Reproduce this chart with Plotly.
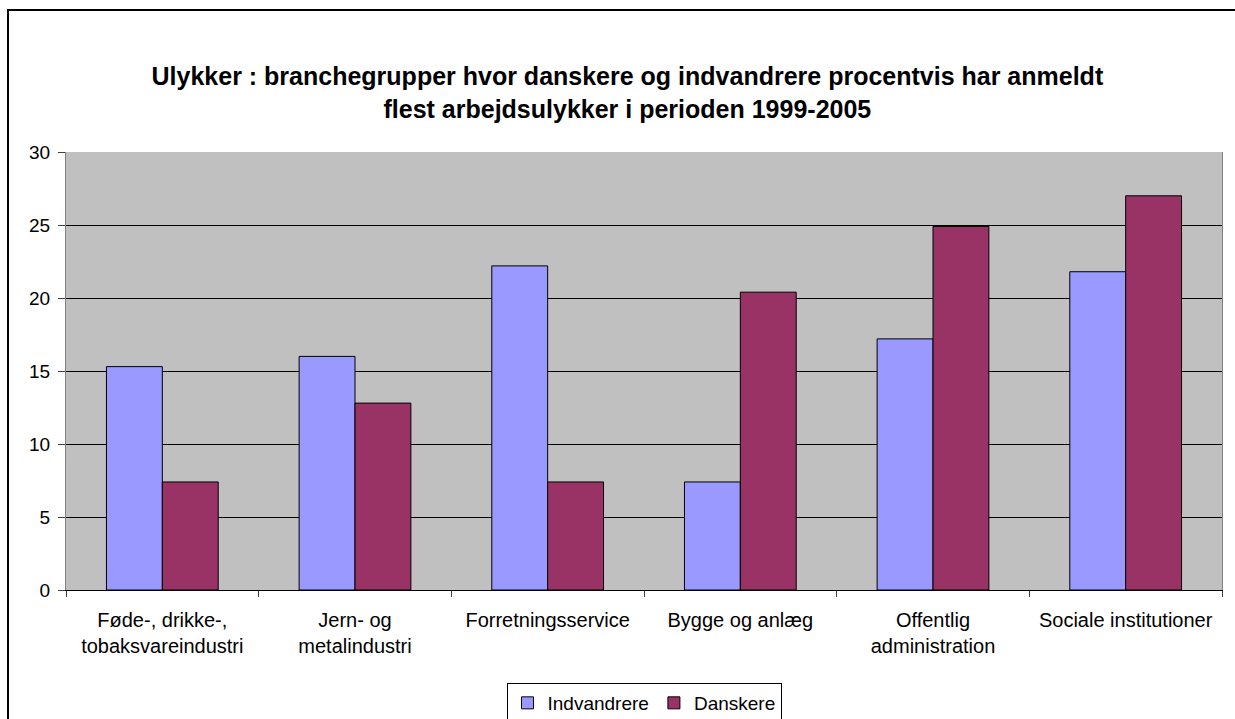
import plotly.graph_objects as go

categories = ["Føde-, drikke-,<br>tobaksvareindustri", "Jern- og<br>metalindustri",
              "Forretningsservice", "Bygge og anlæg",
              "Offentlig<br>administration", "Sociale institutioner"]
indvandrere = [15.3, 16.0, 22.2, 7.4, 17.2, 21.8]
danskere = [7.4, 12.8, 7.4, 20.4, 24.9, 27.0]

fig = go.Figure()
fig.add_trace(go.Bar(x=categories, y=indvandrere, name="Indvandrere",
                     marker=dict(color="#9999FF", line=dict(color="black", width=1))))
fig.add_trace(go.Bar(x=categories, y=danskere, name="Danskere",
                     marker=dict(color="#993366", line=dict(color="black", width=1))))

fig.update_layout(
    width=1235, height=719, autosize=False,
    margin=dict(l=66, r=13, t=152, b=129),
    paper_bgcolor="white", plot_bgcolor="#C0C0C0",
    font=dict(family="Arial", size=19, color="black"),
    barmode="group", bargap=0.42, bargroupgap=0,
    title=dict(text="<b>Ulykker : branchegrupper hvor danskere og indvandrere procentvis har anmeldt<br>flest arbejdsulykker i perioden 1999-2005</b>",
               x=0.508, xanchor="center", y=1 - 85 / 719, yanchor="middle",
               font=dict(family="Arial", size=25)),
    legend=dict(orientation="h", x=0.5, xanchor="center", yref="container",
                y=1 - 683 / 719, yanchor="top",
                bordercolor="black", borderwidth=1, font=dict(size=19),
                itemwidth=30, tracegroupgap=0),
    showlegend=True,
)
fig.update_yaxes(range=[0, 30], dtick=5, showgrid=True, gridcolor="black", gridwidth=1,
                 ticks="outside", ticklen=7, tickcolor="#404040", automargin=False,
                 ticklabelstandoff=4,
                 showline=True, linecolor="#808080", mirror=True, zeroline=False)
fig.update_xaxes(ticks="outside", ticklen=6, tickcolor="#404040", tickson="boundaries",
                 showline=True, linecolor="black", mirror=False, automargin=False,
                 ticklabelstandoff=12, tickfont=dict(size=20))

# outer chart frame (left and top edges visible, rest cut off)
fig.add_shape(type="rect", xref="paper", yref="paper",
              x0=(8 - 66) / 1156, x1=1.1, y0=-0.4, y1=(590 - 10) / 438,
              line=dict(color="black", width=2), fillcolor="rgba(0,0,0,0)", layer="below")

fig.write_html("out.html", config={"responsive": False, "displayModeBar": False},
               post_script="document.body.style.margin='0';document.body.style.overflow='hidden';")
